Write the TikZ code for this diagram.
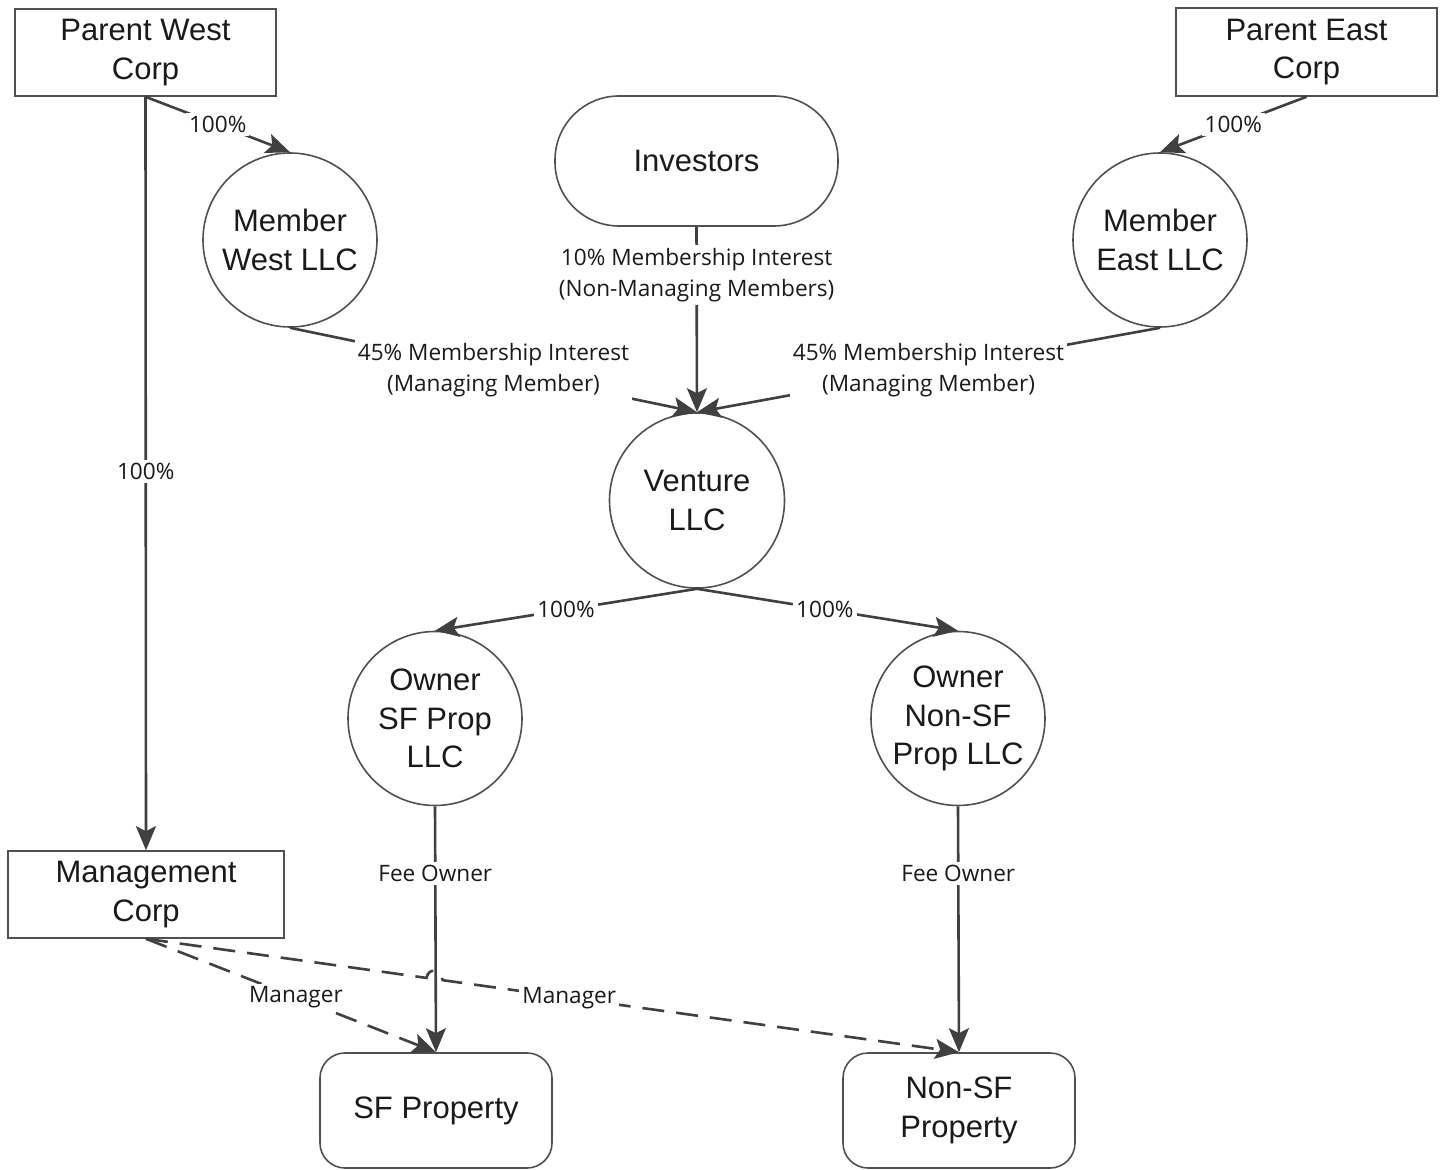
\documentclass[tikz,border=0pt]{standalone}
\usepackage{fontspec}
\setmainfont{Liberation Sans}
\newfontfamily\labelfamily{Open Sans}
\usetikzlibrary{arrows.meta,calc}
\definecolor{lineg}{HTML}{404040}
\definecolor{borderg}{HTML}{505050}
\definecolor{textg}{HTML}{1A1A1A}
\tikzset{
  boxnode/.style={draw=borderg, line width=0.8pt, inner sep=0pt, align=center, text=textg,
    font=\fontsize{15.5}{19.2}\selectfont},
  rectnode/.style={boxnode, rectangle},
  roundnode/.style={boxnode, rectangle, rounded corners=12.5pt},
  pillnode/.style={boxnode, rectangle, rounded corners=32pt},
  circnode/.style={boxnode, circle, minimum size=87pt},
  conn/.style={draw=lineg, line width=1.3pt, -{Stealth[length=12pt,width=10pt,inset=2.5pt]}},
  dconn/.style={conn, dash pattern=on 11pt off 6pt},
  lab/.style={fill=white, inner sep=1.5pt, align=center, text=textg,
    font=\labelfamily\fontsize{11.3}{15.5}\selectfont}
}
\begin{document}
\begin{tikzpicture}[x=0.5pt,y=-0.5pt]
\useasboundingbox[fill=white] (0,0) rectangle (1447,1170);

\node[rectnode, minimum width=130.5pt, minimum height=43.5pt] (pw) at (145.5,52.5) {Parent West\\Corp};
\node[rectnode, minimum width=130.5pt, minimum height=44pt] (pe) at (1306.5,52) {Parent East\\Corp};
\node[pillnode, minimum width=141.5pt, minimum height=65pt] (inv) at (696.5,161) {Investors};
\node[circnode] (mw) at (290,240) {Member\\West LLC};
\node[circnode] (me) at (1160,240) {Member\\East LLC};
\node[circnode, minimum size=87.5pt] (v) at (697,500.5) {Venture\\LLC};
\node[circnode] (osf) at (435,718.5) {Owner\\SF Prop\\LLC};
\node[circnode] (onsf) at (958,718.5) {Owner\\Non-SF\\Prop LLC};
\node[rectnode, minimum width=138pt, minimum height=43.5pt] (mc) at (146,894.5) {Management\\Corp};
\node[roundnode, minimum width=116pt, minimum height=57.5pt] (sfp) at (436,1110.5) {SF Property};
\node[roundnode, minimum width=116pt, minimum height=57.5pt] (nsfp) at (959,1110.5) {Non-SF\\Property};

\draw[conn] (pw.south) -- node[lab, pos=0.5] {100\%} (mw.north);
\draw[conn] (pw.south) -- node[lab, pos=0.497] {100\%} (mc.north);
\draw[conn] (pe.south) -- node[lab, pos=0.5] {100\%} (me.north);
\draw[conn] (inv.south) -- node[lab, pos=0.26] {10\% Membership Interest\\(Non-Managing Members)} (v.north);
\draw[conn] (mw.south) -- node[lab, pos=0.5] {45\% Membership Interest\\(Managing Member)} (v.north);
\draw[conn] (me.south) -- node[lab, pos=0.5] {45\% Membership Interest\\(Managing Member)} (v.north);
\draw[conn] (v.south) -- node[lab, pos=0.5] {100\%} (osf.north);
\draw[conn] (v.south) -- node[lab, pos=0.49] {100\%} (onsf.north);
\draw[conn] (osf.south) -- node[lab, pos=0.274] {Fee Owner} (sfp.north);
\draw[conn] (onsf.south) -- node[lab, pos=0.274] {Fee Owner} (nsfp.north);

\draw[dconn] (mc.south) -- node[lab, pos=0.517] {Manager} (sfp.north);
\coordinate (h1) at ($(mc.south)!0.345!(nsfp.north)$);
\coordinate (h2) at ($(mc.south)!0.365!(nsfp.north)$);
\draw[dconn] (mc.south) -- (h1) .. controls ($(h1)+(2,-11)$) and ($(h2)+(-2,-11)$) .. (h2)
  -- node[lab, pos=0.245] {Manager} (nsfp.north);
\end{tikzpicture}
\end{document}
